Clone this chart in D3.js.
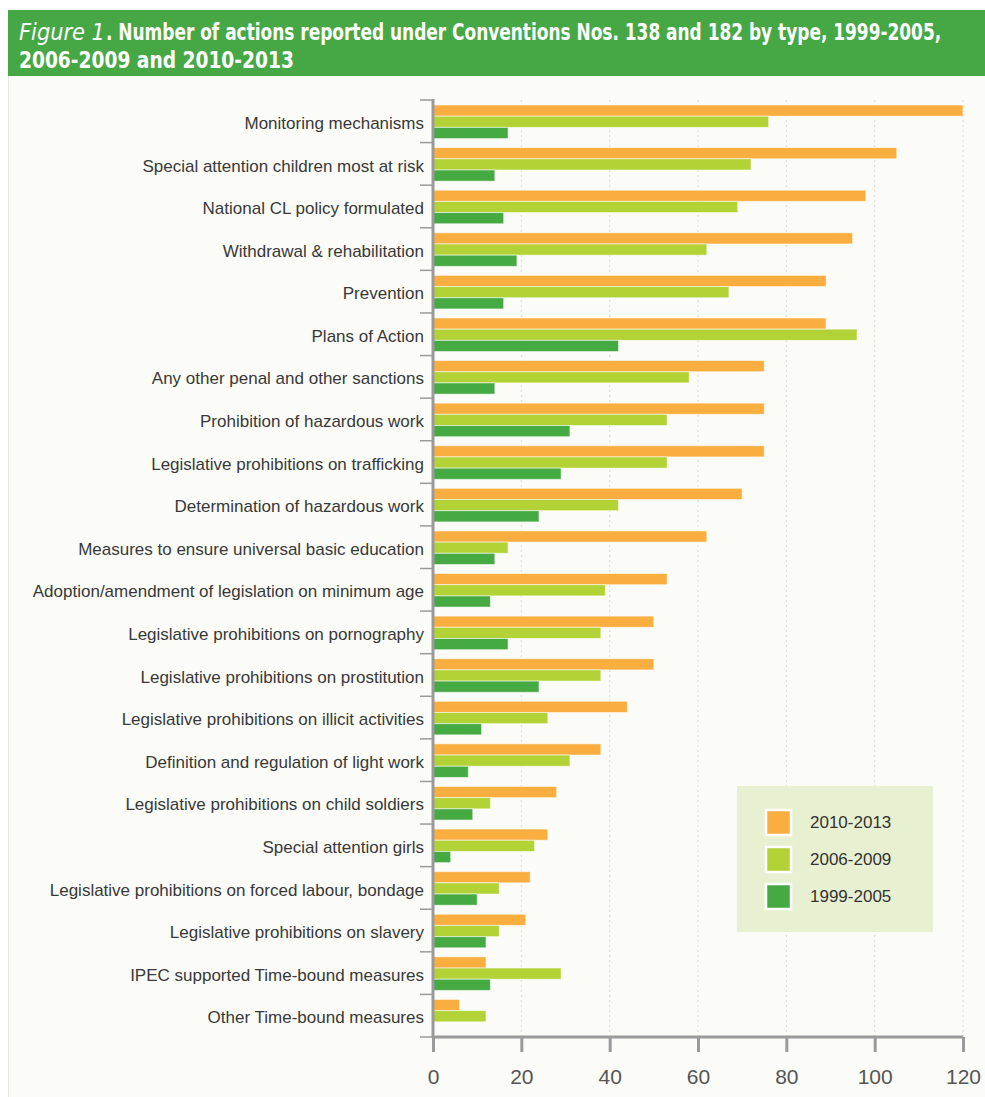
<!DOCTYPE html>
<html><head><meta charset="utf-8">
<script src="https://cdn.jsdelivr.net/npm/d3@7"></script>
<style>
html,body{margin:0;padding:0;background:#fff;}
svg{display:block;}
</style></head>
<body>
<svg id="chart" width="985" height="1097"></svg>
<script>
const categories = [
  "Monitoring mechanisms",
  "Special attention children most at risk",
  "National CL policy formulated",
  "Withdrawal & rehabilitation",
  "Prevention",
  "Plans of Action",
  "Any other penal and other sanctions",
  "Prohibition of hazardous work",
  "Legislative prohibitions on trafficking",
  "Determination of hazardous work",
  "Measures to ensure universal  basic education",
  "Adoption/amendment of legislation on minimum age",
  "Legislative prohibitions on pornography",
  "Legislative prohibitions on prostitution",
  "Legislative prohibitions on illicit activities",
  "Definition and regulation of light work",
  "Legislative prohibitions on child soldiers",
  "Special attention girls",
  "Legislative prohibitions on forced labour, bondage",
  "Legislative prohibitions on slavery",
  "IPEC supported Time-bound measures",
  "Other Time-bound measures"
];
const seriesNames = ["2010-2013", "2006-2009", "1999-2005"];
const values2010_2013 = [120,105,98,95,89,89,75,75,75,70,62,53,50,50,44,38,28,26,22,21,12,6];
const values2006_2009 = [76,72,69,62,67,96,58,53,53,42,17,39,38,38,26,31,13,23,15,15,29,12];
const values1999_2005 = [17,14,16,19,16,42,14,31,29,24,14,13,17,24,11,8,9,4,10,12,13,0];
const xTicks = [0,20,40,60,80,100,120];
const colors = ["#fbae40", "#b2d235", "#45aa42"];

const seriesValues = [values2010_2013, values2006_2009, values1999_2005];
const svg = d3.select("#chart");

// background
svg.append("rect").attr("x",0).attr("y",0).attr("width",985).attr("height",1097).attr("fill","#fff");
svg.append("rect").attr("x",8).attr("y",76).attr("width",977).attr("height",1021).attr("fill","#fbfcf8");
svg.append("line").attr("x1",8.5).attr("x2",8.5).attr("y1",76).attr("y2",1097).attr("stroke","#e4e8dc");

// title bar
svg.append("rect").attr("x",8).attr("y",10).attr("width",977).attr("height",66).attr("fill","#46a845");
const tf = "'DejaVu Sans Condensed','Liberation Sans Narrow','Liberation Sans',sans-serif";
function fitText(txt, x0, y0, width, style) {
  const t = svg.append("text").attr("x",0).attr("y",0).attr("fill","#fff")
    .style("font-family",tf).style("font-size","23px");
  Object.entries(style).forEach(([k,v])=>t.style(k,v));
  t.text(txt);
  const w = t.node().getComputedTextLength();
  t.attr("transform",`translate(${x0},${y0}) scale(${width/w},1)`);
}
fitText("Figure 1", 19, 40, 86, {"font-style":"italic"});
fitText(".  Number of actions reported under Conventions Nos. 138 and 182 by type, 1999-2005,", 106, 40, 836, {"font-weight":"bold"});
fitText("2006-2009 and 2010-2013", 19, 68, 275, {"font-weight":"bold"});

const plotLeft = 433, plotRight = 963, plotTop = 100, plotBottom = 1037;
const x = d3.scaleLinear().domain([0,120]).range([plotLeft,plotRight]);
const y = d3.scaleBand().domain(categories).range([plotTop,plotBottom]);
const yInner = d3.scaleBand().domain(seriesNames).range([5, y.bandwidth()-4]);

// gridlines
svg.append("g").selectAll("line").data(xTicks.filter(d=>d>0)).join("line")
  .attr("x1",d=>x(d)).attr("x2",d=>x(d)).attr("y1",plotTop).attr("y2",plotBottom)
  .attr("stroke","#d8d8d8").attr("stroke-width",1).attr("stroke-dasharray","2,3");

// bars
const g = svg.append("g");
categories.forEach((c,i)=>{
  seriesNames.forEach((s,j)=>{
    const v = seriesValues[j][i];
    if (v <= 0) return;
    g.append("rect")
      .attr("x", x(0)).attr("y", y(c)+yInner(s))
      .attr("width", x(v)-x(0)).attr("height", yInner.bandwidth())
      .attr("fill", colors[j])
      .attr("stroke","rgba(255,255,255,0.55)").attr("stroke-width",1);
  });
});

// y axis
const yAxis = d3.axisLeft(y).tickSize(0).tickPadding(9);
const ya = svg.append("g").attr("transform",`translate(${plotLeft},0)`).call(yAxis);
ya.select(".domain").remove();
ya.selectAll("text").attr("fill","#383838").attr("dy","0.45em")
  .style("font-family","'Liberation Sans',Arial,sans-serif").style("font-size","17px");
// category separator ticks
const seps = categories.map(c=>y(c)).concat([plotBottom]);
svg.append("g").selectAll("line").data(seps).join("line")
  .attr("x1",plotLeft-13).attr("x2",plotLeft).attr("y1",d=>d).attr("y2",d=>d)
  .attr("stroke","#9a9a9a").attr("stroke-width",1.5);
svg.append("line").attr("x1",plotLeft).attr("x2",plotLeft).attr("y1",plotTop-1).attr("y2",plotBottom+1)
  .attr("stroke","#9a9a9a").attr("stroke-width",3);

// x axis
const xAxis = d3.axisBottom(x).tickValues(xTicks).tickSize(15).tickPadding(17);
const xa = svg.append("g").attr("transform",`translate(0,${plotBottom})`).call(xAxis);
xa.select(".domain").attr("stroke","#9a9a9a").attr("stroke-width",3).attr("d",`M${plotLeft},0H${plotRight}`);
xa.selectAll(".tick line").attr("stroke","#9a9a9a").attr("stroke-width",3);
xa.selectAll("text").attr("fill","#555")
  .style("font-family","'Liberation Sans',Arial,sans-serif").style("font-size","21px");

// legend
const lg = svg.append("g");
lg.append("rect").attr("x",737).attr("y",786).attr("width",196).attr("height",146).attr("fill","#e7f0d1");
seriesNames.forEach((s,j)=>{
  const yy = 810 + j*37;
  lg.append("rect").attr("x",766).attr("y",yy).attr("width",25).attr("height",25)
    .attr("fill",colors[j]).attr("stroke","#fff").attr("stroke-width",2.5);
  lg.append("text").attr("x",810).attr("y",yy+18).attr("fill","#333")
    .style("font-family","'Liberation Sans',Arial,sans-serif").style("font-size","17px").text(s);
});
</script>
</body></html>
